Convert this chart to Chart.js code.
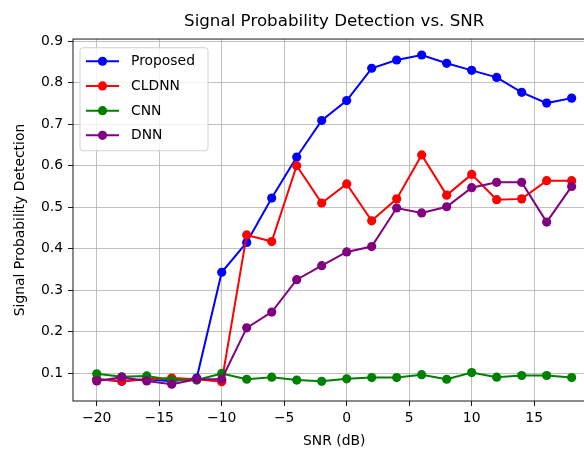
<!DOCTYPE html>
<html>
<head>
<meta charset="utf-8">
<script src="https://cdn.jsdelivr.net/npm/chart.js@4/dist/chart.umd.min.js"></script>
<style>
  html, body { margin: 0; padding: 0; background: #fff; overflow: hidden; }
  canvas { display: block; }
</style>
</head>
<body>
<canvas id="chart" width="600" height="451"></canvas>
<script>
// SNR points (dB)
const snr = [-20, -18, -16, -14, -12, -10, -8, -6, -4, -2, 0, 2, 4, 6, 8, 10, 12, 14, 16, 18];

const proposed = [0.085, 0.080, 0.085, 0.080, 0.088, 0.343, 0.415, 0.522, 0.621, 0.709, 0.757, 0.835, 0.855, 0.867, 0.847, 0.830, 0.813, 0.777, 0.751, 0.763];
const cldnn    = [0.085, 0.081, 0.085, 0.088, 0.085, 0.079, 0.433, 0.417, 0.600, 0.510, 0.556, 0.467, 0.520, 0.626, 0.529, 0.579, 0.518, 0.520, 0.564, 0.564];
const cnn      = [0.098, 0.091, 0.093, 0.083, 0.083, 0.099, 0.085, 0.090, 0.083, 0.080, 0.086, 0.089, 0.089, 0.096, 0.085, 0.101, 0.090, 0.094, 0.094, 0.089];
const dnn      = [0.081, 0.090, 0.081, 0.073, 0.085, 0.085, 0.209, 0.247, 0.325, 0.359, 0.392, 0.405, 0.498, 0.486, 0.501, 0.547, 0.560, 0.560, 0.464, 0.550];

const xTicks = [-20, -15, -10, -5, 0, 5, 10, 15];
const yTicks = [0.1, 0.2, 0.3, 0.4, 0.5, 0.6, 0.7, 0.8, 0.9];

const FONT = 'DejaVu Sans';
const minus = v => String(v).replace('-', '\u2212');

function series(label, values, color, order) {
    return {
        label: label,
        data: snr.map((x, i) => ({ x: x, y: values[i] })),
        borderColor: color,
        backgroundColor: color,
        pointBackgroundColor: color,
        pointBorderWidth: 0,
        pointRadius: 4.6,
        pointHoverRadius: 4.6,
        borderWidth: 2,
        tension: 0,
        order: order,
    };
}

// matplotlib-ish frame (spines) drawn over the lines
const framePlugin = {
    id: 'frame',
    afterDatasetsDraw(chart) {
        const { ctx, chartArea: a } = chart;
        ctx.save();
        ctx.strokeStyle = '#000';
        ctx.lineWidth = 0.9;
        ctx.strokeRect(a.left, a.top, a.right - a.left, a.bottom - a.top);
        ctx.restore();
    }
};

// legend box in the upper left of the axes
const legendPlugin = {
    id: 'boxLegend',
    afterDraw(chart) {
        const { ctx, chartArea: a } = chart;
        const x = a.left + 7, y = a.top + 8.7, w = 128, h = 103;
        ctx.save();
        ctx.beginPath();
        ctx.roundRect(x, y, w, h, 3);
        ctx.fillStyle = 'rgba(255,255,255,0.8)';
        ctx.fill();
        ctx.strokeStyle = '#d0d0d0';
        ctx.lineWidth = 1;
        ctx.stroke();
        ctx.font = '13.9px "' + FONT + '"';
        ctx.textBaseline = 'middle';
        chart.data.datasets.forEach((ds, i) => {
            const cy = y + 13.5 + i * 24.7;
            ctx.strokeStyle = ds.borderColor;
            ctx.lineWidth = 2;
            ctx.beginPath();
            ctx.moveTo(x + 6, cy);
            ctx.lineTo(x + 39, cy);
            ctx.stroke();
            ctx.fillStyle = ds.borderColor;
            ctx.beginPath();
            ctx.arc(x + 22.5, cy, 4.6, 0, Math.PI * 2);
            ctx.fill();
            ctx.fillStyle = '#000';
            ctx.fillText(ds.label, x + 51, cy + 0.5);
        });
        ctx.restore();
    }
};

new Chart(document.getElementById('chart').getContext('2d'), {
    type: 'line',
    data: {
        datasets: [
            series('Proposed', proposed, '#0000ff', 4),
            series('CLDNN', cldnn, '#ff0000', 3),
            series('CNN', cnn, '#008000', 2),
            series('DNN', dnn, '#800080', 1),
        ]
    },
    options: {
        responsive: false,
        animation: false,
        devicePixelRatio: 1,
        layout: { padding: { left: 0, right: 4, top: 0, bottom: 0 } },
        plugins: {
            legend: { display: false },
            tooltip: { enabled: false },
            title: {
                display: true,
                text: 'Signal Probability Detection vs. SNR',
                fullSize: false,
                color: '#000',
                font: { family: FONT, size: 16.7, weight: 'normal', lineHeight: 1.2 },
                padding: { top: 12, bottom: 7 },
            },
        },
        scales: {
            x: {
                type: 'linear',
                min: -21.9,
                max: 19.9,
                afterBuildTicks: s => { s.ticks = xTicks.map(v => ({ value: v })); },
                afterFit: s => { s.height = 50; },
                ticks: {
                    color: '#000',
                    font: { family: FONT, size: 13.9 },
                    padding: 4,
                    maxRotation: 0,
                    callback: v => minus(v),
                },
                grid: { color: '#b0b0b0', lineWidth: 0.8, tickLength: 5, tickColor: '#000', tickWidth: 0.9 },
                border: { display: false },
                title: {
                    display: true,
                    text: 'SNR (dB)',
                    color: '#000',
                    font: { family: FONT, size: 13.9, lineHeight: 1.2 },
                    padding: { top: 0, bottom: 1.4 },
                },
            },
            y: {
                type: 'linear',
                min: 0.0325,
                max: 0.9055,
                afterBuildTicks: s => { s.ticks = yTicks.map(v => ({ value: v })); },
                afterFit: s => { s.width = 73; },
                ticks: {
                    color: '#000',
                    font: { family: FONT, size: 13.9 },
                    padding: 5,
                    callback: v => v.toFixed(1),
                },
                grid: { color: '#b0b0b0', lineWidth: 0.8, tickLength: 5, tickColor: '#000', tickWidth: 0.9 },
                border: { display: false },
                title: {
                    display: true,
                    text: 'Signal Probability Detection',
                    color: '#000',
                    font: { family: FONT, size: 13.9, lineHeight: 1.2 },
                    padding: { top: 11.7, bottom: 0 },
                },
            },
        },
    },
    plugins: [framePlugin, legendPlugin],
});
</script>
</body>
</html>
